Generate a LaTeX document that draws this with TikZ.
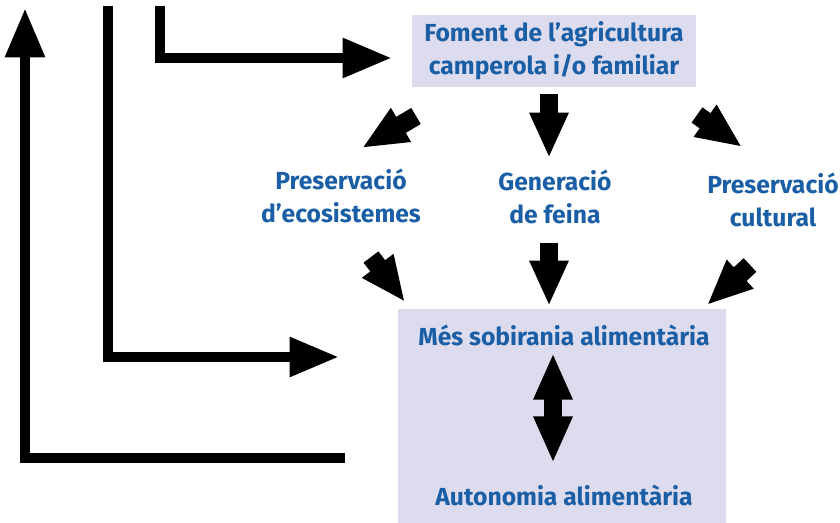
\documentclass[tikz,border=0pt]{standalone}
\usepackage{fontspec}
\setmainfont{Fira Sans}
\usetikzlibrary{arrows.meta}
\definecolor{blaufosc}{HTML}{1A5EA6}
\definecolor{lila}{HTML}{DCDCEE}

\begin{document}
\begin{tikzpicture}[x=0.75pt,y=-0.75pt,
  every node/.style={text=blaufosc,font=\bfseries\fontsize{18.5}{24.5}\selectfont,align=center},
  caixa/.style={fill=lila,inner sep=0pt},
  fletxa/.style={line width=14pt,-{Triangle[length=34pt,width=27pt]}},
  doble/.style={line width=14pt,{Triangle[length=35pt,width=27pt]}-{Triangle[length=35pt,width=27pt]}},
  linia/.style={line width=8pt,-{Triangle[length=37pt,width=28pt]}}]
\useasboundingbox (0,0) rectangle (840,523);

% caixes
\node (foment) [caixa,minimum width=213pt,minimum height=54pt] at (554,51) {Foment de l’agricultura\\camperola i/o familiar};
\node (bloc) [caixa,minimum width=246pt,minimum height=161pt,anchor=north west] at (398,309) {};

\node (ecosist) at (341,196) {Preservació\\d’ecosistemes};
\node (feina) at (555,197) {Generació\\de feina};
\node (cultural) at (773,200) {Preservació\\cultural};
\node (sobirania) at (564,335) {Més sobirania alimentària};
\node (autonomia) at (564,495) {Autonomia alimentària};

% extrems de les fletxes
\coordinate (f1) at (416,116);  \coordinate (e1) at (362,148);
\coordinate (f2) at (549,94);   \coordinate (e2) at (549,158);
\coordinate (f3) at (697,115);  \coordinate (e3) at (742,147);
\coordinate (s1) at (371,257);  \coordinate (t1) at (405,302);
\coordinate (s2) at (549,243);  \coordinate (t2) at (549,306);
\coordinate (s3) at (750,265);  \coordinate (t3) at (707,305);
\coordinate (d1) at (553,353);  \coordinate (d2) at (553,463);

\foreach \a/\b in {f1/e1,f2/e2,f3/e3,s1/t1,s2/t2,s3/t3}
  \draw [fletxa] (\a) -- (\b);
\draw [doble] (d1) -- (d2);

% retorns
\coordinate (r1) at (345,458);
\coordinate (r1t) at (25,8);
\draw [linia] (r1) -| (r1t);
\coordinate (r2) at (108,6);
\coordinate (r2t) at (339,357);
\draw [linia] (r2) |- (r2t);
\coordinate (r3) at (160,6);
\coordinate (r3t) at (392,58);
\draw [linia] (r3) |- (r3t);

\end{tikzpicture}
\end{document}
